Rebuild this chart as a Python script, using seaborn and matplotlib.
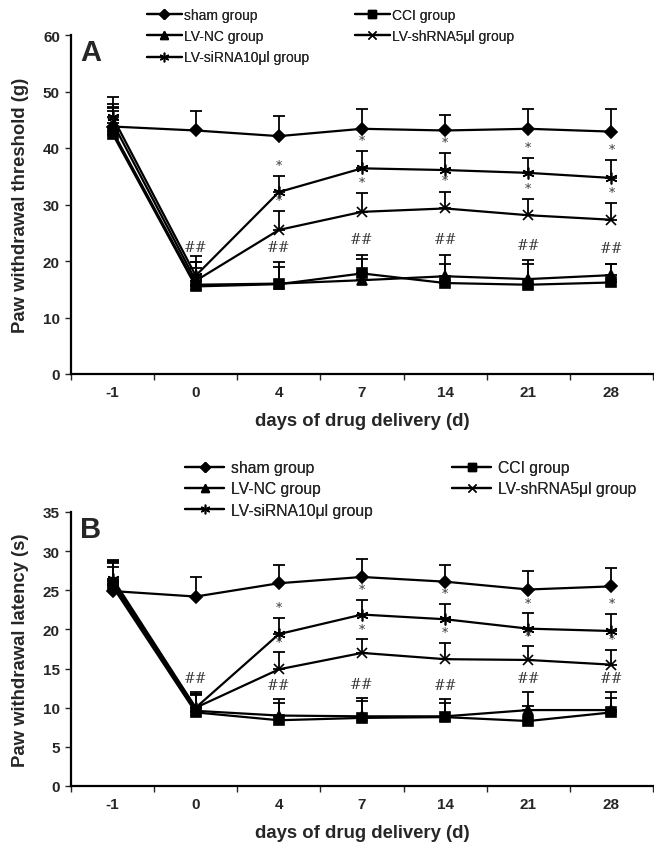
"""Paw withdrawal threshold / latency after lentivirus delivery (panels A and B)."""

import matplotlib.pyplot as plt
from matplotlib.lines import Line2D
import pandas as pd
import seaborn as sns

# ── data ──────────────────────────────────────────────────────────────
days = ["-1", "0", "4", "7", "14", "21", "28"]
groups = ["sham group", "CCI group", "LV-NC group", "LV-shRNA5μl group", "LV-siRNA10μl group"]

# panel A: threshold (g), mean and upper SD
thr_sham = [43.8, 43.1, 42.1, 43.4, 43.1, 43.4, 42.9]
thr_cci = [42.5, 15.5, 15.9, 17.8, 16.1, 15.8, 16.2]
thr_nc = [43.0, 15.8, 16.0, 16.6, 17.3, 16.8, 17.5]
thr_sh = [44.5, 16.5, 25.5, 28.7, 29.3, 28.1, 27.3]
thr_si = [45.5, 17.4, 32.2, 36.4, 36.1, 35.6, 34.7]
thr_sham_err = [5.2, 3.5, 3.6, 3.5, 2.7, 3.5, 4.0]
thr_cci_err = [4.8, 3.2, 3.9, 2.6, 3.4, 3.6, 3.3]
thr_nc_err = [3.6, 4.0, 2.9, 4.5, 3.8, 3.3, 2.0]
thr_sh_err = [2.5, 3.3, 3.3, 3.3, 3.0, 2.9, 3.0]
thr_si_err = [2.3, 3.5, 2.9, 3.1, 3.0, 2.7, 3.1]

# panel B: latency (s), mean and upper SD
lat_sham = [24.9, 24.2, 25.9, 26.7, 26.1, 25.1, 25.5]
lat_cci = [25.5, 9.4, 8.4, 8.7, 8.8, 8.3, 9.4]
lat_nc = [26.2, 9.6, 9.0, 8.9, 8.9, 9.7, 9.7]
lat_sh = [25.8, 10.0, 14.9, 17.0, 16.2, 16.1, 15.5]
lat_si = [26.5, 10.0, 19.4, 21.9, 21.3, 20.1, 19.8]
lat_sham_err = [4.0, 2.5, 2.3, 2.3, 2.1, 2.3, 2.3]
lat_cci_err = [3.0, 2.2, 2.2, 2.1, 1.8, 1.9, 1.9]
lat_nc_err = [2.4, 2.4, 2.1, 2.4, 2.2, 2.3, 2.3]
lat_sh_err = [2.2, 1.8, 2.2, 1.8, 2.1, 1.8, 1.9]
lat_si_err = [2.2, 1.8, 2.1, 1.9, 2.0, 2.0, 2.2]

# ── styling ───────────────────────────────────────────────────────────
sns.set_style("ticks")
plt.rcParams["font.family"] = ["Liberation Sans", "DejaVu Sans"]

MARKERS = {
    "sham group": "D",
    "CCI group": "s",
    "LV-NC group": "^",
    "LV-shRNA5μl group": "x",
    "LV-siRNA10μl group": (6, 2, 0),
}
MSIZE = {"sham group": 6, "CCI group": 6.5, "LV-NC group": 7,
         "LV-shRNA5μl group": 7.5, "LV-siRNA10μl group": 8.5}
_LW = 1.6
_ANN_COLOR = "#3a3a3a"


def make_long(means, errs):
    rows = []
    for g, m, e in zip(groups, means, errs):
        for i, (d, v, s) in enumerate(zip(days, m, e)):
            rows.append({"group": g, "day": d, "pos": i, "value": v, "err": s})
    return pd.DataFrame(rows)


def draw_panel(ax, df, ymax, ystep, ylabel, letter, legend_y, legend_x, legend_fs,
               legend_pad, legend_space):
    for g in groups:
        sub = df[df["group"] == g]
        sns.lineplot(
            data=sub, x="pos", y="value", color="black", marker=MARKERS[g],
            markersize=MSIZE[g], markeredgecolor="black", markeredgewidth=1.2,
            errorbar=None, linewidth=_LW, ax=ax,
        )
        # upper-only error bars
        ax.errorbar(
            sub["pos"], sub["value"], yerr=[[0] * len(sub), sub["err"]],
            fmt="none", ecolor="black", elinewidth=1.3, capsize=4, capthick=1.3,
        )

    # significance marks
    top = df.assign(top=df["value"] + df["err"])
    for i in range(1, len(days)):
        ctrl = top[(top["pos"] == i) & top["group"].isin(["CCI group", "LV-NC group"])]
        ax.text(i, ctrl["top"].max() + ymax * 0.025, "##", ha="center", va="bottom",
                fontsize=10, color=_ANN_COLOR, family="DejaVu Serif")
    for g in ["LV-shRNA5μl group", "LV-siRNA10μl group"]:
        for i in range(2, len(days)):
            t = top[(top["pos"] == i) & (top["group"] == g)]["top"].iloc[0]
            ax.text(i, t + ymax * 0.012, "*", ha="center", va="bottom",
                    fontsize=9, color=_ANN_COLOR, family="DejaVu Serif")

    ax.set_xlim(-0.5, len(days) - 0.5)
    ax.set_ylim(0, ymax)
    ax.set_yticks(range(0, ymax + 1, ystep))
    ax.set_xticks(range(len(days)))
    ax.set_xticklabels(days)
    ax.set_xticks([i - 0.5 for i in range(len(days) + 1)], minor=True)
    ax.tick_params(axis="x", which="major", length=0, pad=8)
    ax.tick_params(axis="x", which="minor", length=4, width=1, direction="out")
    ax.tick_params(axis="y", length=4, width=1, direction="out", pad=4)
    for lbl in ax.get_xticklabels() + ax.get_yticklabels():
        lbl.set_fontweight("bold")
        lbl.set_fontsize(11)
    sns.despine(ax=ax)
    for sp in ("left", "bottom"):
        ax.spines[sp].set_linewidth(1.6)
        ax.spines[sp].set_color("black")
    ax.set_xlabel("days of drug delivery (d)", fontsize=13.3, fontweight="bold", labelpad=9)
    ax.set_ylabel(ylabel, fontsize=13.3, fontweight="bold", labelpad=10)
    ax.text(0.016, 0.99, letter, transform=ax.transAxes, ha="left", va="top",
            fontsize=21, fontweight="bold")

    def handle(g):
        return Line2D([], [], color="black", lw=_LW, marker=MARKERS[g],
                      markersize=MSIZE[g] * 0.8, markeredgecolor="black",
                      markeredgewidth=1.0)

    cols = [["sham group", "LV-NC group", "LV-siRNA10μl group"],
            ["CCI group", "LV-shRNA5μl group"]]
    fig = ax.figure
    for x0, col in zip(legend_x, cols):
        leg = fig.legend(
            [handle(g) for g in col], col, loc="upper left",
            bbox_to_anchor=(x0, legend_y), bbox_transform=fig.transFigure,
            frameon=False, fontsize=legend_fs, handlelength=2.5,
            handletextpad=legend_pad, labelspacing=legend_space,
            borderpad=0, borderaxespad=0,
        )
        fig.add_artist(leg)


fig = plt.figure(figsize=(6.54, 8.45), dpi=100)
ax_a = fig.add_axes([71 / 654, 1 - 375 / 845, 582 / 654, 339 / 845])
ax_b = fig.add_axes([71 / 654, 1 - 787 / 845, 582 / 654, 274 / 845])

df_a = make_long([thr_sham, thr_cci, thr_nc, thr_sh, thr_si],
                 [thr_sham_err, thr_cci_err, thr_nc_err, thr_sh_err, thr_si_err])
df_b = make_long([lat_sham, lat_cci, lat_nc, lat_sh, lat_si],
                 [lat_sham_err, lat_cci_err, lat_nc_err, lat_sh_err, lat_si_err])

draw_panel(ax_a, df_a, 60, 10, "Paw withdrawal threshold (g)", "A",
           1 - 9 / 845, [147 / 654, 355 / 654], 10, 0.15, 0.52)
draw_panel(ax_b, df_b, 35, 5, "Paw withdrawal latency (s)", "B",
           1 - 461 / 845, [185 / 654, 452 / 654], 11.3, 0.45, 0.4)

fig.savefig("out.png", dpi=100, facecolor="white")
